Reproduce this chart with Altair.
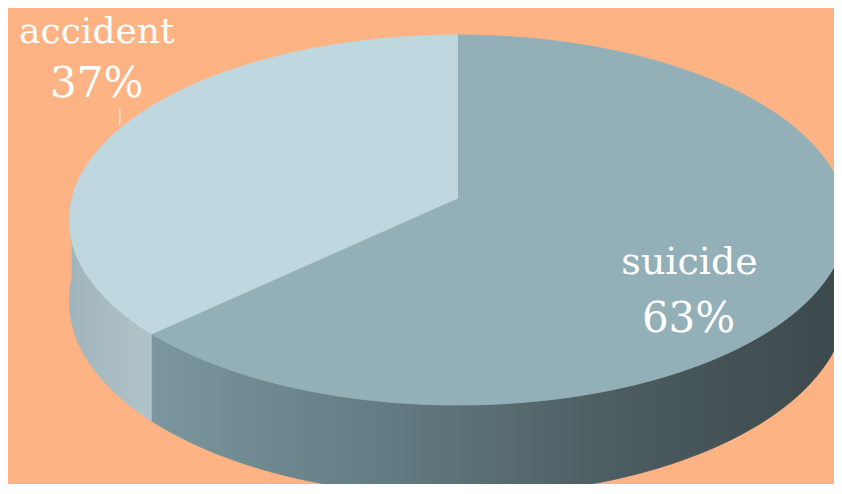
import altair as alt
import pandas as pd

# ---- data ----
categories = ["suicide", "accident"]
shares = [63, 37]
slice_order = [0, 1]

df = pd.DataFrame({"category": categories, "share": shares, "order": slice_order})

# ---- geometry / style (perspective ellipse) ----
N = 120
CX, CY = 458, 198          # projected pie centre
A, B, E = 386, 182.4, 0.119  # horizontal radius, vertical radius, perspective factor
DEPTH = 80
W, H = 826, 476

BG = "#FDB384"
TOP_COL = {"suicide": "#93B0B9", "accident": "#BFD7DE"}
SIDE_COL = {
    "suicide": alt.LinearGradient(
        gradient="linear", x1=0, x2=1, y1=0, y2=0,
        stops=[alt.GradientStop(offset=0, color="#7B969E"),
               alt.GradientStop(offset=0.35, color="#627A81"),
               alt.GradientStop(offset=0.7, color="#4A5A5E"),
               alt.GradientStop(offset=1, color="#3C484B")]),
    "accident": alt.LinearGradient(
        gradient="linear", x1=0, x2=1, y1=0, y2=0,
        stops=[alt.GradientStop(offset=0, color="#A0B4BB"),
               alt.GradientStop(offset=1, color="#B0C4CA")]),
}
FONT = "DejaVu Serif"

xscale = alt.Scale(domain=[8, 8 + W], nice=False, zero=False)
yscale = alt.Scale(domain=[8, 8 + H], nice=False, zero=False, reverse=True)
X = lambda f: alt.X(f, type="quantitative", scale=xscale, axis=None)
Y = lambda f: alt.Y(f, type="quantitative", scale=yscale, axis=None)


def base():
    return (alt.Chart(df)
            .transform_joinaggregate(total="sum(share)")
            .transform_window(cum="sum(share)", sort=[alt.SortField("order")], frame=[None, 0])
            .transform_calculate(t0="360*(datum.cum-datum.share)/datum.total")
            .transform_calculate(t1="360*datum.cum/datum.total"))


def proj(c):
    return (c.transform_calculate(a="sin(datum.th)")
             .transform_calculate(b="cos(datum.th)"))


def top(cat):
    c = (base().transform_filter(alt.datum.category == cat)
         .transform_calculate(k=f"sequence(-1, {N + 1})")
         .transform_flatten(["k"])
         .transform_calculate(th=f"(datum.t0 + (datum.t1-datum.t0)*max(datum.k,0)/{N})*PI/180"))
    c = proj(c)
    c = (c.transform_calculate(aa="datum.k<0 ? 0 : datum.a")
          .transform_calculate(bb="datum.k<0 ? 0 : datum.b")
          .transform_calculate(px=f"{CX} + {A}*datum.aa/(1+{E}*datum.bb)")
          .transform_calculate(py=f"{CY} - {B}*datum.bb/(1+{E}*datum.bb)"))
    col = TOP_COL[cat]
    return c.mark_line(fill=col, stroke=col, strokeWidth=0.8, clip=True).encode(
        x=X("px"), y=Y("py"), order=alt.Order("k:Q"))


def side(cat):
    c = (base().transform_filter(alt.datum.category == cat)
         .transform_calculate(s0="max(datum.t0, 90)")
         .transform_calculate(s1="min(datum.t1, 270)")
         .transform_filter("datum.s1 > datum.s0")
         .transform_calculate(k=f"sequence(0, {2 * N + 2})")
         .transform_flatten(["k"])
         .transform_calculate(j=f"datum.k <= {N} ? datum.k : {2 * N + 1} - datum.k")
         .transform_calculate(drop=f"datum.k > {N} ? 1 : 0")
         .transform_calculate(th=f"(datum.s0 + (datum.s1-datum.s0)*datum.j/{N})*PI/180"))
    c = proj(c)
    c = (c.transform_calculate(px=f"{CX} + {A}*datum.a/(1+{E}*datum.b)")
          .transform_calculate(py=f"{CY} - {B}*datum.b/(1+{E}*datum.b) + datum.drop*{DEPTH}/(1+{E}*datum.b)"))
    col = SIDE_COL[cat]
    return c.mark_line(fill=col, stroke=col, strokeWidth=0.8, clip=True).encode(
        x=X("px"), y=Y("py"), order=alt.Order("k:Q"))


def anchor(cat, r):
    c = (base().transform_filter(alt.datum.category == cat)
         .transform_calculate(th="(datum.t0+datum.t1)/2*PI/180"))
    c = proj(c)
    return (c.transform_calculate(lx=f"{CX} + {A}*{r}*datum.a/(1+{E}*{r}*datum.b)")
             .transform_calculate(ly=f"{CY} - {B}*{r}*datum.b/(1+{E}*{r}*datum.b)")
             .transform_calculate(pct="datum.share + '%'")
             .transform_calculate(ly_a="datum.ly - 4")
             .transform_calculate(ly_b="datum.ly - 21"))


# labels
acc = anchor("accident", 1.0)
acc_leader = acc.mark_rule(color="#E8E8E8", strokeWidth=1.5).encode(x=X("lx"), y=Y("ly_a"), y2="ly_b:Q")
acc_name = acc.mark_text(font=FONT, fontSize=36, color="white", align="center", baseline="alphabetic",
                         dx=-23, dy=-86).encode(x=X("lx"), y=Y("ly"), text="category:N")
acc_pct = acc.mark_text(font=FONT, fontSize=42, color="white", align="center", baseline="alphabetic",
                        dx=-23, dy=-32).encode(x=X("lx"), y=Y("ly"), text="pct:N")

sui = anchor("suicide", 0.65)
sui_name = sui.mark_text(font=FONT, fontSize=38, color="white", align="center", baseline="alphabetic",
                         dx=-6, dy=27).encode(x=X("lx"), y=Y("ly"), text="category:N")
sui_pct = sui.mark_text(font=FONT, fontSize=42, color="white", align="center", baseline="alphabetic",
                        dx=-7, dy=85).encode(x=X("lx"), y=Y("ly"), text="pct:N")

chart = alt.layer(
    side("suicide"), side("accident"),
    top("suicide"), top("accident"),
    acc_leader, acc_name, acc_pct, sui_name, sui_pct,
).properties(
    width=W, height=H, padding=0,
    autosize=alt.AutoSizeParams(type="fit", contains="padding"),
).configure(background=BG).configure_view(stroke=None)

chart.save("out.html", embed_options={"renderer": "svg", "actions": False})
